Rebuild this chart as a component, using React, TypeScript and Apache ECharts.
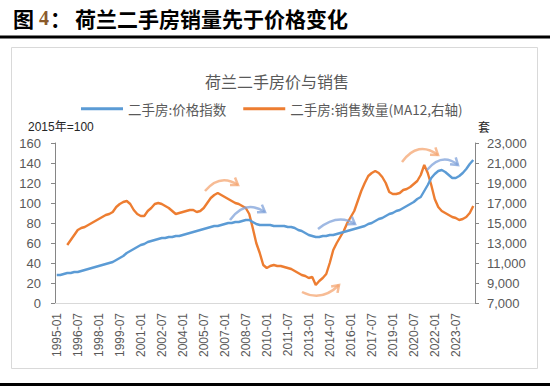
import React, { useEffect, useRef } from "react";
import * as echarts from "echarts";

// ---- data (quarterly readings, Jan/Apr/Jul/Oct) ----
const YEARS = [
  1995, 1996, 1997, 1998, 1999, 2000, 2001, 2002, 2003, 2004,
  2005, 2006, 2007, 2008, 2009, 2010, 2011, 2012, 2013, 2014,
  2015, 2016, 2017, 2018, 2019, 2020, 2021, 2022, 2023, 2024,
];
const QUARTER_MONTHS = ["01", "04", "07", "10"];
const categories: string[] = YEARS.flatMap((y) => QUARTER_MONTHS.map((m) => `${y}-${m}`));

// 二手房:价格指数 (2015年=100, left axis)
const priceIndex: number[] = [
  28, 28, 29, 30, // 1995
  30, 31, 31, 32, // 1996
  33, 34, 35, 36, // 1997
  37, 38, 39, 40, // 1998
  41, 43, 45, 47, // 1999
  50, 52, 54, 56, // 2000
  58, 59, 61, 62, // 2001
  63, 64, 65, 65, // 2002
  66, 66, 67, 67, // 2003
  68, 69, 70, 71, // 2004
  72, 73, 74, 75, // 2005
  76, 77, 77, 78, // 2006
  79, 80, 80, 81, // 2007
  81, 82, 83, 83, // 2008
  81, 79, 78, 78, // 2009
  78, 78, 77, 77, // 2010
  77, 77, 76, 76, // 2011
  75, 73, 72, 70, // 2012
  68, 67, 66, 66, // 2013
  67, 67, 68, 68, // 2014
  69, 70, 71, 72, // 2015
  73, 74, 75, 76, // 2016
  77, 79, 80, 82, // 2017
  84, 85, 87, 89, // 2018
  90, 92, 93, 95, // 2019
  97, 99, 101, 104, // 2020
  106, 112, 118, 125, // 2021
  129, 132, 133, 131, // 2022
  128, 125, 125, 127, // 2023
  130, 134, 139, 143, // 2024
];

// 二手房:销售数量 (MA12, 套, right axis)
const salesMA12: (number | null)[] = [
  null, null, null, 12800, // 1995
  13300, 13800, 14300, 14500, // 1996
  14600, 14800, 15000, 15200, // 1997
  15400, 15600, 15800, 15900, // 1998
  16100, 16600, 16900, 17100, // 1999
  17200, 16900, 16300, 15900, // 2000
  15700, 15700, 16200, 16500, // 2001
  16900, 17000, 16900, 16700, // 2002
  16500, 16200, 15900, 16000, // 2003
  16100, 16200, 16300, 16300, // 2004
  16100, 16200, 16500, 17000, // 2005
  17500, 17800, 18000, 17800, // 2006
  17600, 17400, 17200, 17000, // 2007
  16900, 16700, 16500, 15900, // 2008
  14500, 13000, 12000, 10800, // 2009
  10500, 10700, 10800, 10700, // 2010
  10700, 10600, 10500, 10400, // 2011
  10200, 10000, 9800, 9700, // 2012
  9500, 9600, 8800, 9200, // 2013
  9500, 9900, 11000, 12300, // 2014
  13000, 13600, 14200, 15000, // 2015
  15600, 16200, 17200, 18200, // 2016
  19000, 19700, 20000, 20200, // 2017
  20000, 19600, 19000, 18100, // 2018
  17900, 17900, 18000, 18300, // 2019
  18400, 18600, 18900, 19200, // 2020
  19800, 20800, 20000, 18800, // 2021
  17400, 16600, 16200, 16000, // 2022
  15800, 15600, 15500, 15300, // 2023
  15400, 15600, 16000, 16700, // 2024
];

const LEFT_AXIS = { min: 0, max: 160, interval: 20 };
const RIGHT_AXIS = { min: 7000, max: 23000, interval: 2000 };
const SERIES_NAMES = ["二手房:价格指数", "二手房:销售数量(MA12,右轴)"];

const BLUE = "#5B9BD5";
const ORANGE = "#ED7D31";
const GREY_TEXT = "#595959";
const LATIN = "'Liberation Sans', Arial, 'Noto Sans CJK SC', sans-serif";
const CJK = "'Noto Sans CJK SC', 'Liberation Sans', sans-serif";

// decorative curved arrows (annotation)
function arrow(sx: number, sy: number, cx: number, cy: number, ex: number, ey: number, color: string) {
  const dx = ex - cx;
  const dy = ey - cy;
  const len = Math.sqrt(dx * dx + dy * dy) || 1;
  const ux = dx / len;
  const uy = dy / len;
  const wing = 8;
  const ang = 0.6;
  const w1x = ex - wing * (ux * Math.cos(ang) - uy * Math.sin(ang));
  const w1y = ey - wing * (uy * Math.cos(ang) + ux * Math.sin(ang));
  const w2x = ex - wing * (ux * Math.cos(-ang) - uy * Math.sin(-ang));
  const w2y = ey - wing * (uy * Math.cos(-ang) + ux * Math.sin(-ang));
  return [
    {
      type: "bezierCurve",
      shape: { x1: sx, y1: sy, cpx1: cx, cpy1: cy, x2: ex, y2: ey },
      style: { stroke: color, lineWidth: 2.5, fill: null, opacity: 0.75 },
      z: 100,
    },
    {
      type: "polyline",
      shape: { points: [[w1x, w1y], [ex, ey], [w2x, w2y]] },
      style: { stroke: color, lineWidth: 2.5, fill: null, opacity: 0.75, lineJoin: "miter" },
      z: 100,
    },
  ];
}

const ORANGE_ARROW = "#F4A672";
const BLUE_ARROW = "#7FA2DA";

export default function App() {
  const ref = useRef<HTMLDivElement>(null);

  useEffect(() => {
    if (!ref.current) return;
    const chart = echarts.init(ref.current, null, { renderer: "svg" });
    const option: any = {
      animation: false,
      backgroundColor: "#ffffff",
      title: {
        text: "荷兰二手房价与销售",
        left: 200,
        top: 68,
        textStyle: { fontSize: 16, fontWeight: "normal", color: GREY_TEXT, fontFamily: CJK },
      },
      legend: {
        data: SERIES_NAMES,
        left: 76,
        top: 97,
        itemWidth: 42,
        itemHeight: 3,
        itemGap: 17,
        icon: "rect",
        textStyle: { fontSize: 13.5, color: GREY_TEXT, fontFamily: CJK },
      },
      grid: { left: 55, right: 75, top: 143, bottom: 87, containLabel: false },
      xAxis: {
        type: "category",
        data: categories,
        boundaryGap: true,
        axisLine: { lineStyle: { color: "#D9D9D9", width: 1 } },
        axisTick: { show: false },
        axisLabel: {
          rotate: 90,
          interval: (index: number) => index % 6 === 0,
          color: GREY_TEXT,
          fontSize: 12,
          fontFamily: LATIN,
          margin: 10,
        },
        splitLine: { show: false },
      },
      yAxis: [
        {
          type: "value",
          min: LEFT_AXIS.min,
          max: LEFT_AXIS.max,
          interval: LEFT_AXIS.interval,
          axisLine: { show: true, lineStyle: { color: "#868686", width: 1 } },
          axisTick: { show: true, inside: false, length: 4, lineStyle: { color: "#868686" } },
          axisLabel: { color: GREY_TEXT, fontSize: 13, fontFamily: LATIN, margin: 14 },
          splitLine: { show: false },
        },
        {
          type: "value",
          position: "right",
          min: RIGHT_AXIS.min,
          max: RIGHT_AXIS.max,
          interval: RIGHT_AXIS.interval,
          axisLine: { show: true, lineStyle: { color: "#868686", width: 1 } },
          axisTick: { show: true, inside: false, length: 4, lineStyle: { color: "#868686" } },
          axisLabel: {
            color: GREY_TEXT,
            fontSize: 13,
            fontFamily: LATIN,
            margin: 12,
            formatter: (v: number) => v.toLocaleString("en-US"),
          },
          splitLine: { show: false },
        },
      ],
      series: [
        {
          name: SERIES_NAMES[0],
          type: "line",
          data: priceIndex,
          yAxisIndex: 0,
          showSymbol: false,
          symbol: "none",
          lineStyle: { color: BLUE, width: 2.4 },
          itemStyle: { color: BLUE },
          z: 3,
        },
        {
          name: SERIES_NAMES[1],
          type: "line",
          data: salesMA12,
          yAxisIndex: 1,
          showSymbol: false,
          symbol: "none",
          connectNulls: false,
          lineStyle: { color: ORANGE, width: 2.4 },
          itemStyle: { color: ORANGE },
          z: 2,
        },
      ],
      graphic: [
        { type: "text", left: 13, top: 7, style: { text: "图", fontSize: 21, fontWeight: "bold", fill: "#000", fontFamily: CJK } },
        { type: "text", left: 39, top: 8, style: { text: "4", fontSize: 20, fontWeight: "bold", fill: "#8B5A2B", fontFamily: "'Liberation Serif', serif" } },
        { type: "text", left: 50, top: 7, style: { text: "：", fontSize: 21, fontWeight: "bold", fill: "#000", fontFamily: CJK } },
        { type: "text", left: 75, top: 7, style: { text: "荷兰二手房销量先于价格变化", fontSize: 21, fontWeight: "bold", fill: "#000", fontFamily: CJK, letterSpacing: 2 } },
        { type: "rect", shape: { x: 0, y: 35.5, width: 550, height: 3 }, style: { fill: "#000" }, z: 0 },
        { type: "rect", shape: { x: 11.5, y: 47.5, width: 526, height: 321 }, style: { fill: null, stroke: "#D9D9D9", lineWidth: 1 }, z: 0 },
        { type: "rect", shape: { x: 0, y: 383, width: 550, height: 3 }, style: { fill: "#000" }, z: 0 },
        { type: "text", left: 28, top: 121, style: { text: "2015年=100", fontSize: 12, fill: "#262626", fontFamily: LATIN } },
        { type: "text", left: 478, top: 120, style: { text: "套", fontSize: 12, fill: "#262626", fontFamily: CJK } },
        ...arrow(205, 191, 220, 173, 238, 185, ORANGE_ARROW),
        ...arrow(230, 220, 245, 199, 265, 212, BLUE_ARROW),
        ...arrow(318, 229, 338, 213, 355, 224, BLUE_ARROW),
        ...arrow(302, 292, 322, 302, 339, 285, ORANGE_ARROW),
        ...arrow(402, 162, 418, 140, 438, 155, ORANGE_ARROW),
        ...arrow(427, 170, 442, 152, 458, 165, BLUE_ARROW),
      ],
    };
    chart.setOption(option);
    return () => chart.dispose();
  }, []);

  return (
    <div
      ref={ref}
      style={{ position: "fixed", left: 0, top: 0, width: 550, height: 390, background: "#fff" }}
    />
  );
}
